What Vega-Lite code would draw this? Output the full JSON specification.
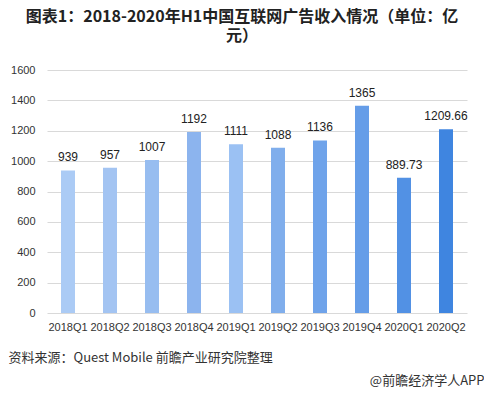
{
  "$schema": "https://vega.github.io/schema/vega-lite/v6.json",
  "autosize": "none",
  "width": 420,
  "height": 243,
  "padding": {"left": 47, "top": 70, "right": 17, "bottom": 80},
  "background": "white",
  "config": {
    "font": "Noto Sans CJK SC",
    "view": {"stroke": null}
  },
  "title": {
    "text": ["图表1：2018-2020年H1中国互联网广告收入情况（单位：亿", "元）"],
    "fontSize": 16,
    "fontWeight": "bold",
    "color": "#222222",
    "anchor": "middle",
    "frame": "group",
    "dx": -15,
    "lineHeight": 19,
    "offset": 20
  },
  "data": {
    "values": [
      {"quarter": "2018Q1", "value": 939, "label": "939"},
      {"quarter": "2018Q2", "value": 957, "label": "957"},
      {"quarter": "2018Q3", "value": 1007, "label": "1007"},
      {"quarter": "2018Q4", "value": 1192, "label": "1192"},
      {"quarter": "2019Q1", "value": 1111, "label": "1111"},
      {"quarter": "2019Q2", "value": 1088, "label": "1088"},
      {"quarter": "2019Q3", "value": 1136, "label": "1136"},
      {"quarter": "2019Q4", "value": 1365, "label": "1365"},
      {"quarter": "2020Q1", "value": 889.73, "label": "889.73"},
      {"quarter": "2020Q2", "value": 1209.66, "label": "1209.66"}
    ]
  },
  "encoding": {
    "x": {
      "field": "quarter",
      "type": "nominal",
      "sort": null,
      "scale": {"paddingInner": 0, "paddingOuter": 0},
      "axis": {
        "labelAngle": 0,
        "labelFontSize": 11,
        "labelColor": "#333333",
        "labelFont": "Liberation Sans",
        "labelPadding": 8,
        "ticks": false,
        "domain": false,
        "title": "资料来源：Quest Mobile 前瞻产业研究院整理",
        "titleFontSize": 13,
        "titleFontWeight": "normal",
        "titleColor": "#333333",
        "titleAnchor": "start",
        "titleAlign": "left",
        "titleBaseline": "middle",
        "titleX": -39,
        "titleY": 44
      }
    },
    "y": {
      "field": "value",
      "type": "quantitative",
      "scale": {"domain": [0, 1600]},
      "axis": {
        "values": [0, 200, 400, 600, 800, 1000, 1200, 1400, 1600],
        "format": "d",
        "labelFontSize": 11,
        "labelColor": "#333333",
        "labelFont": "Liberation Sans",
        "labelPadding": 12,
        "ticks": false,
        "domain": false,
        "gridColor": "#d9d9d9",
        "gridWidth": 1,
        "title": "@前瞻经济学人APP",
        "titleAngle": 0,
        "titleFontSize": 13,
        "titleFontWeight": "normal",
        "titleColor": "#333333",
        "titleAlign": "right",
        "titleBaseline": "middle",
        "titleX": 437,
        "titleY": 310
      }
    }
  },
  "layer": [
    {
      "mark": {"type": "bar", "size": 14},
      "encoding": {
        "color": {
          "field": "quarter",
          "type": "nominal",
          "legend": null,
          "scale": {
            "domain": ["2018Q1","2018Q2","2018Q3","2018Q4","2019Q1","2019Q2","2019Q3","2019Q4","2020Q1","2020Q2"],
            "range": ["#abcbf5","#a3c4f2","#97bdf0","#8cb4ee","#9bc1f3","#80aeec","#6fa3ea","#659de8","#5291e4","#3f85e0"]
          }
        }
      }
    },
    {
      "mark": {"type": "text", "baseline": "bottom", "dy": -6, "fontSize": 12, "color": "#222222", "font": "Liberation Sans"},
      "encoding": {"text": {"field": "label"}}
    }
  ]
}
